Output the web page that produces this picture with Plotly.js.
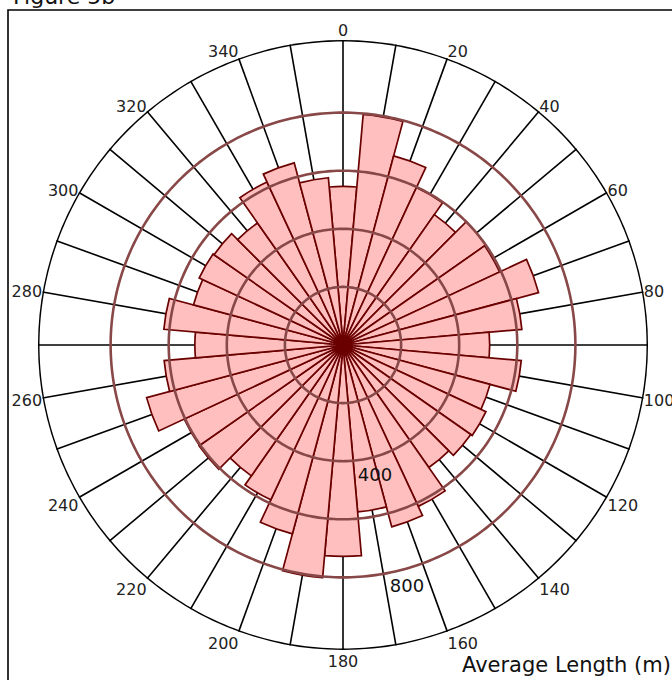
<!DOCTYPE html>
<html>
<head>
<meta charset="utf-8">
<script src="https://cdn.plot.ly/plotly-3.0.1.min.js"></script>
<style>
  html, body { margin: 0; padding: 0; background: #ffffff; }
  #chart { width: 672px; height: 680px; }
</style>
</head>
<body>
<div id="chart"></div>
<script>
// Bin centre directions (degrees, clockwise from north)
const directions = [0, 10, 20, 30, 40, 50, 60, 70, 80, 90, 100, 110,
                    120, 130, 140, 150, 160, 170, 180, 190, 200, 210, 220, 230,
                    240, 250, 260, 270, 280, 290, 300, 310, 320, 330, 340, 350];
// Average length (m) per 10-degree bin
const avgLength = [546, 797, 674, 598, 548, 600, 595, 697, 618, 505, 616, 524,
                   543, 537, 515, 613, 648, 577, 728, 804, 673, 588, 550, 605,
                   603, 700, 618, 510, 619, 533, 546, 542, 513, 619, 649, 578];
// Radial rings, labelled rings, and the outer edge of the radial scale
const ringValues = [200, 400, 600, 800];
const labelValues = [400, 800];
const labelText = ['400', '800'];
const radialMax = 1050;
// Angular ticks
const angleTickVals = [0, 10, 20, 30, 40, 50, 60, 70, 80, 90, 100, 110,
                       120, 130, 140, 150, 160, 170, 180, 190, 200, 210, 220, 230,
                       240, 250, 260, 270, 280, 290, 300, 310, 320, 330, 340, 350];
const angleTickText = ['0', '', '20', '', '40', '', '60', '', '80', '', '100', '',
                       '120', '', '140', '', '160', '', '180', '', '200', '', '220', '',
                       '240', '', '260', '', '280', '', '300', '', '320', '', '340', ''];

const FONT = 'DejaVu Sans, Verdana, sans-serif';
const LABEL_ANGLE = 164;   // direction along which the ring labels sit

const traces = [{
  type: 'barpolar',
  r: avgLength,
  theta: directions,
  width: 10,
  marker: { color: '#ffbfbf', line: { color: '#6a0000', width: 1.7 } },
  hoverinfo: 'skip',
  showlegend: false
}];

// rings drawn above the bars
const ringTheta = [];
for (let a = 0; a <= 360; a += 1) ringTheta.push(a);
ringValues.forEach(v => {
  traces.push({
    type: 'scatterpolar',
    mode: 'lines',
    r: ringTheta.map(() => v),
    theta: ringTheta,
    line: { color: '#884848', width: 2.6 },
    hoverinfo: 'skip',
    showlegend: false
  });
});
// outer boundary circle
traces.push({
  type: 'scatterpolar',
  mode: 'lines',
  r: ringTheta.map(() => radialMax),
  theta: ringTheta,
  line: { color: '#000000', width: 3 },
  cliponaxis: false,
  hoverinfo: 'skip',
  showlegend: false
});
// ring value labels (invisible marker only pads the text below its ring)
traces.push({
  type: 'scatterpolar',
  mode: 'markers+text',
  r: labelValues,
  theta: labelValues.map(() => LABEL_ANGLE),
  text: labelText,
  textposition: 'bottom center',
  marker: { size: 15, color: 'rgba(0,0,0,0)' },
  textfont: { family: FONT, size: 18, color: '#111' },
  cliponaxis: false,
  hoverinfo: 'skip',
  showlegend: false
});

const layout = {
  width: 672,
  height: 680,
  margin: { l: 38, r: 24, t: 40, b: 30 },
  paper_bgcolor: '#ffffff',
  hovermode: false,
  showlegend: false,
  font: { family: FONT, color: '#222' },
  polar: {
    domain: { x: [0, 1], y: [0, 1] },
    bgcolor: '#ffffff',
    angularaxis: {
      direction: 'clockwise',
      rotation: 90,
      tickmode: 'array',
      tickvals: angleTickVals,
      ticktext: angleTickText,
      ticks: '',
      ticklen: 0,
      tickfont: { family: FONT, size: 16, color: '#222' },
      showgrid: true,
      gridcolor: '#000000',
      gridwidth: 1.6,
      showline: false
    },
    radialaxis: {
      range: [0, radialMax],
      tickmode: 'array',
      tickvals: ringValues,
      showticklabels: false,
      ticks: '',
      showline: false,
      showgrid: false
    }
  },
  annotations: [
    {
      text: 'Average Length (m)',
      xref: 'paper', yref: 'paper',
      x: (673 - 38) / 610, y: (650 - 665) / 610,
      xanchor: 'right', yanchor: 'middle',
      showarrow: false,
      font: { family: FONT, size: 21, color: '#111' }
    },
    {
      text: 'Figure 5b',
      xref: 'paper', yref: 'paper',
      x: (11 - 38) / 610, y: (650 + 3) / 610,
      xanchor: 'left', yanchor: 'middle',
      showarrow: false,
      font: { family: FONT, size: 22, color: '#111' }
    }
  ],
  shapes: [{
    type: 'rect',
    xref: 'paper', yref: 'paper',
    x0: (8 - 38) / 610, x1: (700 - 38) / 610,
    y0: (650 - 10) / 610, y1: (650 - 700) / 610,
    line: { color: '#000', width: 1.6 },
    fillcolor: 'rgba(0,0,0,0)',
    layer: 'below'
  }]
};

Plotly.newPlot('chart', traces, layout, { staticPlot: true, displayModeBar: false });
</script>
</body>
</html>
